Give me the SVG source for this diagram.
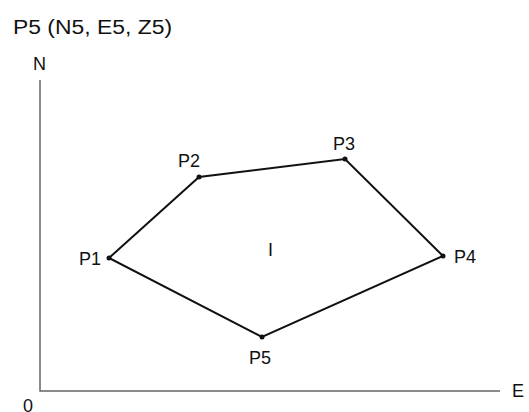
<svg xmlns="http://www.w3.org/2000/svg" width="529" height="412" viewBox="0 0 529 412">
<style>
text{font-family:"Liberation Sans",Arial,sans-serif;fill:#111;font-size:18px}
.axis{stroke:#666;stroke-width:1.5;fill:none}
.edge{stroke:#111;stroke-width:2;fill:none}
.pt{fill:#111}
</style>
<rect width="529" height="412" fill="#fff"/>
<text x="13" y="34" style="font-size:20px" textLength="159" lengthAdjust="spacingAndGlyphs">P5 (N5, E5, Z5)</text>
<g id="axes">
<path class="axis" d="M40 80 V391 H500"/>
<text x="33" y="70">N</text>
<text x="512" y="397">E</text>
<text x="23" y="412">0</text>
</g>
<g id="connectors">
<path class="edge" d="M109 258 L199 177 L345 159 L443 256 L262 337 Z"/>
</g>
<g id="P1"><circle class="pt" cx="109" cy="258" r="2.5"/><text x="79" y="265">P1</text></g>
<g id="P2"><circle class="pt" cx="199" cy="177" r="2.5"/><text x="178" y="167">P2</text></g>
<g id="P3"><circle class="pt" cx="345" cy="159" r="2.5"/><text x="333" y="150">P3</text></g>
<g id="P4"><circle class="pt" cx="443" cy="256" r="2.5"/><text x="454" y="263">P4</text></g>
<g id="P5"><circle class="pt" cx="262" cy="337" r="2.5"/><text x="249" y="364">P5</text></g>
<g id="I"><text x="268" y="256">I</text></g>
</svg>
